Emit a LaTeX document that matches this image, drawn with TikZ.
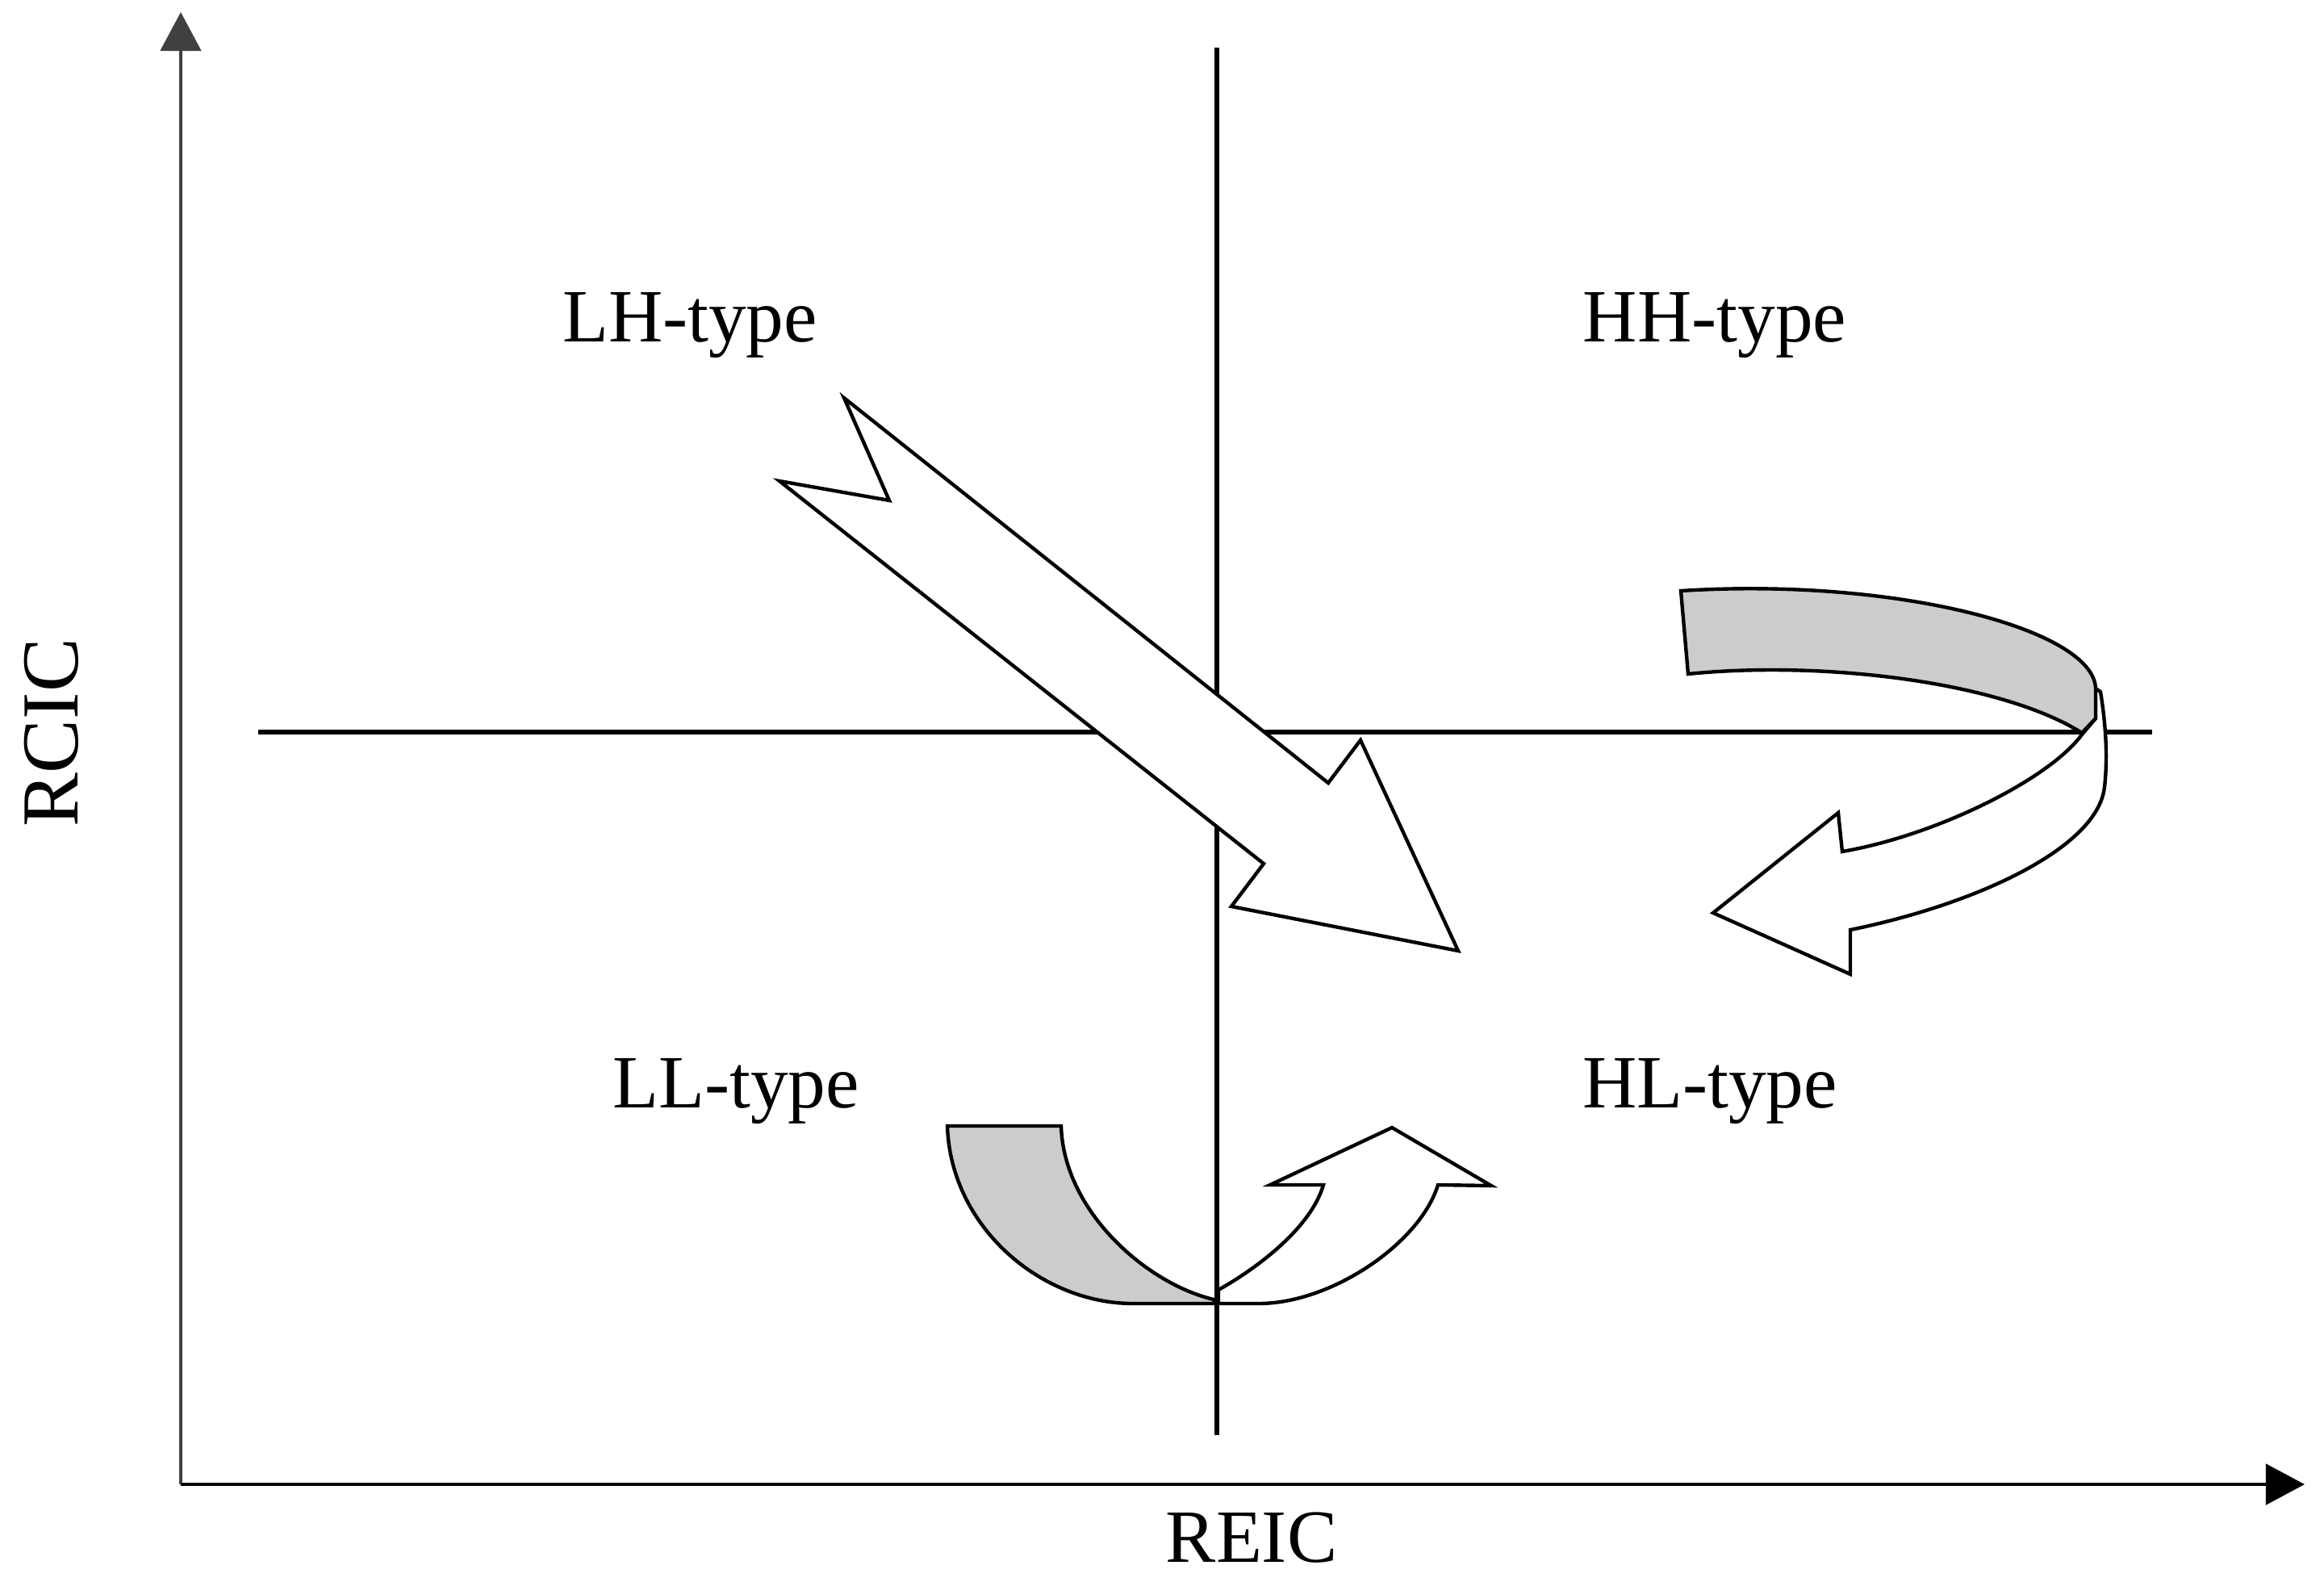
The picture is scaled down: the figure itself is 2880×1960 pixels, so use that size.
\documentclass[tikz,border=0pt]{standalone}
\usepackage{fontspec}
\setmainfont{Liberation Serif}
\usetikzlibrary{arrows.meta}
\definecolor{ribbongray}{RGB}{204,204,204}
\begin{document}
\begin{tikzpicture}[x=0.01cm,y=-0.01cm,
  axisline/.style={line width=1.4pt,-{Triangle[length=0.48cm,width=0.5cm]}},
  quadline/.style={line width=1.5pt},
  shapeline/.style={line width=1.25pt,line join=miter,draw=black},
  lbl/.style={font=\fontsize{26.5}{30}\selectfont,anchor=base,inner sep=0pt}]
\useasboundingbox (0,0) rectangle (2880,1960);

% axes
\coordinate (O) at (224,1839);
\coordinate (ytop) at (224,15);
\coordinate (xend) at (2856,1839);
\draw[axisline,black!75] (O) -- (ytop);
\draw[axisline] (O) -- (xend);

% quadrant lines
\coordinate (vtop) at (1508,59);
\coordinate (vbot) at (1508,1778);
\coordinate (hl0) at (320,907);
\coordinate (hr0) at (2667,907);
\draw[quadline] (vtop) -- (vbot);
\draw[quadline] (hl0) -- (hr0);

% straight diagonal arrow LH -> HL
\filldraw[shapeline,fill=white]
  (1046,493) -- (1646,970) -- (1686,917) -- (1807,1178) -- (1526,1123)
  -- (1566,1070) -- (966,596) -- (1102,620) -- cycle;

% curved arrow HH -> HL : white part
\filldraw[shapeline,fill=white]
  (2580,910) .. controls (2540,965) and (2400,1035) .. (2283,1055)
  -- (2278,1007) -- (2123,1131) -- (2293,1207) -- (2293,1152)
  .. controls (2450,1120) and (2600,1050) .. (2608,975)
  .. controls (2612,940) and (2610,900) .. (2603,857)
  -- (2597,853) -- (2597,890) -- cycle;
% curved arrow HH -> HL : gray part
\filldraw[shapeline,fill=ribbongray]
  (2083,732) .. controls (2350,715) and (2595,780) .. (2597,853)
  -- (2597,890) -- (2580,908)
  .. controls (2480,845) and (2260,818) .. (2092,835) -- cycle;

% curved arrow LL -> HL : gray part
\filldraw[shapeline,fill=ribbongray]
  (1174,1395) -- (1315,1395)
  .. controls (1318,1500) and (1420,1590) .. (1504,1610)
  -- (1506,1615) -- (1404,1615)
  .. controls (1290,1615) and (1178,1520) .. (1174,1395) -- cycle;
% curved arrow LL -> HL : white part
\filldraw[shapeline,fill=white]
  (1510,1598) .. controls (1560,1570) and (1625,1520) .. (1640,1468)
  -- (1574,1468) -- (1725,1397) -- (1848,1469) -- (1782,1468)
  .. controls (1760,1540) and (1650,1615) .. (1560,1615)
  -- (1510,1615) -- cycle;

% labels
\node[lbl] (lh) at (855,423) {LH-type};
\node[lbl] (hh) at (2125,423) {HH-type};
\node[lbl] (ll) at (912,1372) {LL-type};
\node[lbl] (hl) at (2119,1372) {HL-type};
\node[lbl] (reic) at (1551,1935) {REIC};
\node[lbl,rotate=90,font=\fontsize{28.5}{32}\selectfont] (rcic) at (97,908) {RCIC};
\end{tikzpicture}
\end{document}
